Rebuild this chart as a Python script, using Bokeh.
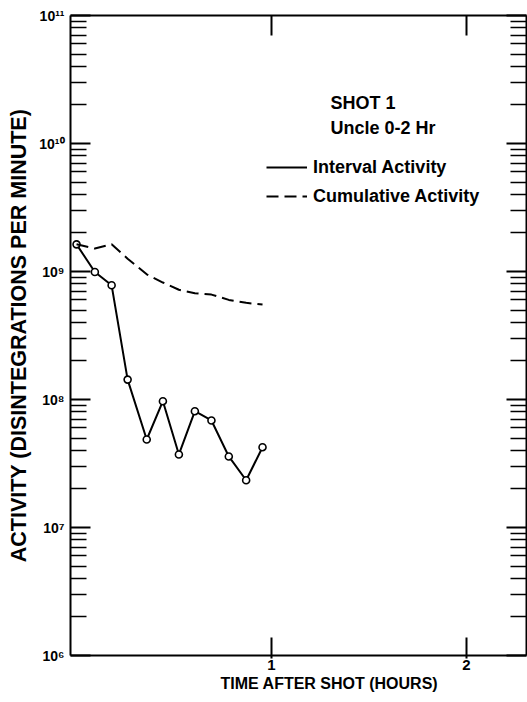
from bokeh.plotting import figure
from bokeh.models import LogAxis, LinearAxis, FixedTicker, Legend, LegendItem, Label, Title
from bokeh.embed import file_html
from bokeh.resources import INLINE

# ---- data ----
time_hr = [0.0, 0.094, 0.18, 0.262, 0.36, 0.443, 0.525, 0.607, 0.692, 0.781, 0.87, 0.954]
interval_activity = [1.63e9, 9.9e8, 7.8e8, 1.43e8, 4.87e7, 9.7e7, 3.72e7, 8.1e7, 6.86e7, 3.59e7, 2.34e7, 4.24e7]
cumulative_activity = [1.63e9, 1.51e9, 1.63e9, 1.26e9, 9.5e8, 8.2e8, 7.2e8, 6.77e8, 6.6e8, 6.0e8, 5.69e8, 5.52e8]

y_tick_values = [1e6, 1e7, 1e8, 1e9, 1e10, 1e11]
y_tick_labels = ["10\u2076", "10\u2077", "10\u2078", "10\u2079", "10\u00b9\u2070", "10\u00b9\u00b9"]
x_tick_values = [1, 2]
x_tick_labels = ["1", "2"]

series_names = ["Interval Activity", "Cumulative Activity"]
note_lines = ["SHOT 1", "Uncle 0-2 Hr"]
x_title = "TIME AFTER SHOT (HOURS)"
y_title = "ACTIVITY (DISINTEGRATIONS PER MINUTE)"

FONT = "Liberation Sans"
minor_vals = [m * 10 ** e for e in range(6, 11) for m in range(2, 10)]

p = figure(width=527, height=702, x_range=(-0.031, 2.308), y_range=(1e6, 1e11),
           y_axis_type="log", output_backend="svg", toolbar_location=None,
           min_border_left=70, min_border_right=1, min_border_top=15, min_border_bottom=47)
p.grid.visible = False
p.outline_line_color = None
p.background_fill_color = "white"
p.border_fill_color = "white"

# left axis
ya = p.left[0]
ya.ticker = FixedTicker(ticks=y_tick_values, minor_ticks=minor_vals)
ya.major_label_overrides = {float(v): s for v, s in zip(y_tick_values, y_tick_labels)}
ya.major_tick_in = 20
ya.major_tick_out = 0
ya.minor_tick_in = 16
ya.minor_tick_out = 0
ya.axis_line_width = 2
ya.major_tick_line_width = 2
ya.minor_tick_line_width = 1.6
ya.major_label_text_font = FONT
ya.major_label_text_font_size = "14px"
ya.major_label_text_font_style = "bold"
ya.major_label_text_color = "black"
ya.major_label_standoff = 6
ya.axis_label = y_title
ya.axis_label_text_font = FONT
ya.axis_label_text_font_size = "21.5px"
ya.axis_label_text_font_style = "bold"
ya.axis_label_text_color = "black"
ya.axis_label_standoff = 5

# bottom axis
xa = p.below[0]
xa.ticker = FixedTicker(ticks=x_tick_values, minor_ticks=[])
xa.major_label_overrides = {v: s for v, s in zip(x_tick_values, x_tick_labels)}
xa.major_tick_in = 18
xa.major_tick_out = 3
xa.minor_tick_in = 0
xa.minor_tick_out = 0
xa.axis_line_width = 2
xa.major_tick_line_width = 2
xa.major_label_text_font = FONT
xa.major_label_text_font_size = "15px"
xa.major_label_text_font_style = "bold"
xa.major_label_text_color = "black"
xa.major_label_standoff = 1

# right axis (ticks only)
ra = LogAxis(ticker=FixedTicker(ticks=y_tick_values, minor_ticks=minor_vals),
             major_tick_in=20, major_tick_out=0, minor_tick_in=16, minor_tick_out=0,
             axis_line_width=2, major_tick_line_width=2, minor_tick_line_width=1.6,
             major_label_overrides={float(v): "" for v in y_tick_values},
             major_label_text_font_size="1px", major_label_standoff=0)
p.add_layout(ra, "right")

# top axis (ticks only)
ta = LinearAxis(ticker=FixedTicker(ticks=x_tick_values, minor_ticks=[]),
                major_tick_in=20, major_tick_out=0, minor_tick_in=0, minor_tick_out=0,
                axis_line_width=2, major_tick_line_width=2,
                major_label_overrides={v: "" for v in x_tick_values},
                major_label_text_font_size="1px", major_label_standoff=0)
p.add_layout(ta, "above")

# x-axis title (placed as in the reference, right of centre)
p.add_layout(Title(text=x_title, align="left", offset=150, standoff=0,
                   text_font=FONT, text_font_size="16px", text_font_style="bold",
                   text_color="black"), "below")

# data
r_int = p.line(time_hr, interval_activity, line_color="black", line_width=2)
p.scatter(time_hr, interval_activity, marker="circle", size=7, fill_color="white",
          line_color="black", line_width=1.6)
r_cum = p.line(time_hr, cumulative_activity, line_color="black", line_width=2, line_dash="12 6")

legend = Legend(items=[LegendItem(label=series_names[0], renderers=[r_int]),
                       LegendItem(label=series_names[1], renderers=[r_cum])],
                location=(196, 447), glyph_width=41, glyph_height=24, label_height=24,
                label_standoff=6, spacing=5, padding=0, margin=0,
                border_line_color=None, background_fill_alpha=0,
                label_text_font=FONT, label_text_font_size="18px",
                label_text_font_style="bold", label_text_color="black")
p.add_layout(legend)

for txt, yv in zip(note_lines, [2.09e10, 1.33e10]):
    p.add_layout(Label(x=1.303, y=yv, text=txt, text_font=FONT, text_font_size="18px",
                       text_font_style="bold", text_baseline="middle", text_align="left",
                       text_color="black"))

open("out.html", "w").write(file_html(p, INLINE))
